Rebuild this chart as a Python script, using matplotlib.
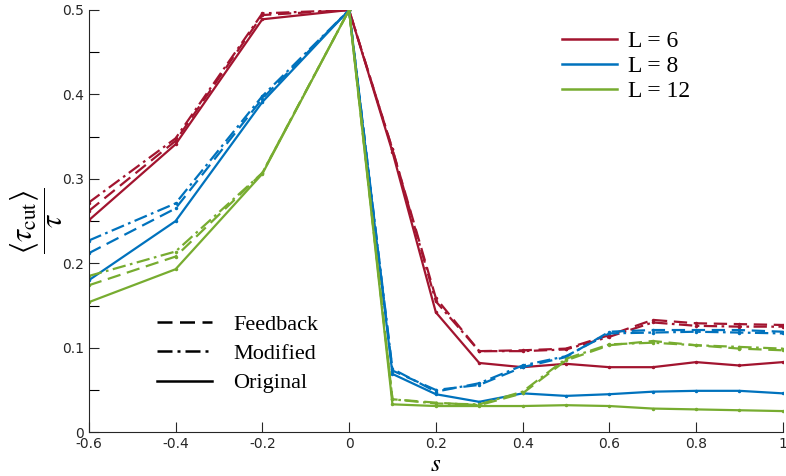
import matplotlib
matplotlib.use("Agg")
import matplotlib.pyplot as plt
from matplotlib.lines import Line2D

s = [-0.6, -0.4, -0.2, 0.0, 0.1, 0.2, 0.3, 0.4, 0.5, 0.6, 0.7, 0.8, 0.9, 1.0]

# L = 6
L6_original = [0.251, 0.341, 0.489, 0.500, 0.332, 0.142, 0.082, 0.077, 0.081, 0.077, 0.077, 0.083, 0.079, 0.083]
L6_feedback = [0.262, 0.345, 0.494, 0.500, 0.335, 0.159, 0.096, 0.097, 0.099, 0.115, 0.133, 0.129, 0.128, 0.127]
L6_modified = [0.272, 0.348, 0.496, 0.500, 0.335, 0.155, 0.096, 0.096, 0.098, 0.113, 0.130, 0.126, 0.125, 0.125]
# L = 8
L8_original = [0.180, 0.250, 0.391, 0.500, 0.069, 0.045, 0.036, 0.046, 0.043, 0.045, 0.048, 0.049, 0.049, 0.046]
L8_feedback = [0.212, 0.265, 0.395, 0.500, 0.073, 0.050, 0.056, 0.077, 0.089, 0.119, 0.121, 0.121, 0.121, 0.119]
L8_modified = [0.227, 0.271, 0.398, 0.500, 0.075, 0.048, 0.058, 0.079, 0.090, 0.117, 0.118, 0.119, 0.118, 0.117]
# L = 12
L12_original = [0.154, 0.193, 0.306, 0.500, 0.033, 0.031, 0.031, 0.031, 0.032, 0.031, 0.028, 0.027, 0.026, 0.025]
L12_feedback = [0.174, 0.208, 0.307, 0.500, 0.039, 0.035, 0.032, 0.046, 0.085, 0.103, 0.108, 0.103, 0.099, 0.097]
L12_modified = [0.185, 0.214, 0.307, 0.500, 0.039, 0.034, 0.033, 0.048, 0.087, 0.104, 0.106, 0.103, 0.101, 0.099]

size_labels = ["L = 6", "L = 8", "L = 12"]
style_labels = ["Feedback", "Modified", "Original"]
colors = ["#A2142F", "#0072BD", "#77AC30"]

x_ticks = [-0.6, -0.4, -0.2, 0, 0.2, 0.4, 0.6, 0.8, 1]
x_ticklabels = ["-0.6", "-0.4", "-0.2", "0", "0.2", "0.4", "0.6", "0.8", "1"]
y_ticks = [0, 0.1, 0.2, 0.3, 0.4, 0.5]
y_ticklabels = ["0", "0.1", "0.2", "0.3", "0.4", "0.5"]

plt.rcParams['mathtext.fontset'] = 'stix'

fig = plt.figure(figsize=(7.86, 4.76), dpi=100)
ax = fig.add_axes([0.113, 0.092, 0.883, 0.887])

series = [
    (L6_feedback, L6_modified, L6_original),
    (L8_feedback, L8_modified, L8_original),
    (L12_feedback, L12_modified, L12_original),
]
styles = [(0, (6, 3)), (0, (6, 2, 1.2, 2)), '-']
for col, trio in zip(colors, series):
    for data, ls in zip(trio, styles):
        ax.plot(s, data, color=col, linestyle=ls, linewidth=1.6,
                marker='.', markersize=3)

ax.set_xlim(-0.6, 1.0)
ax.set_ylim(0, 0.5)
ax.set_xticks(x_ticks)
ax.set_xticklabels(x_ticklabels)
ax.set_yticks(y_ticks)
ax.set_yticklabels(y_ticklabels)
ax.set_yticks([0.05, 0.15, 0.25, 0.35, 0.45], minor=True)
ax.tick_params(direction='in', length=7, width=0.8, labelsize=10, colors='#262626')
ax.tick_params(which='minor', direction='in', length=7, width=0.8)
for sp in ['top', 'right']:
    ax.spines[sp].set_visible(False)
for sp in ['left', 'bottom']:
    ax.spines[sp].set_color('#262626')

ax.set_xlabel(r'$s$', fontsize=18, labelpad=1)
ax.set_ylabel(r'$\dfrac{\langle\tau_{\mathrm{cut}}\rangle}{\tau}$', fontsize=22, labelpad=-2)

h1 = [Line2D([], [], color=c, linewidth=1.8) for c in colors]
leg1 = ax.legend(h1, size_labels, loc='upper left', bbox_to_anchor=(0.6816, 0.952),
                 frameon=False, prop={'family': 'Liberation Serif', 'size': 17},
                 handlelength=2.33, handletextpad=0.47, labelspacing=0.15,
                 borderpad=0, borderaxespad=0)
ax.add_artist(leg1)
h2 = [Line2D([], [], color='black', linewidth=1.8, linestyle=ls) for ls in styles]
ax.legend(h2, style_labels, loc='upper left', bbox_to_anchor=(0.098, 0.28),
          frameon=False, prop={'family': 'Liberation Serif', 'size': 16},
          handlelength=2.48, handletextpad=0.95, labelspacing=0.4,
          borderpad=0, borderaxespad=0)

fig.savefig('out.png', dpi=100)
